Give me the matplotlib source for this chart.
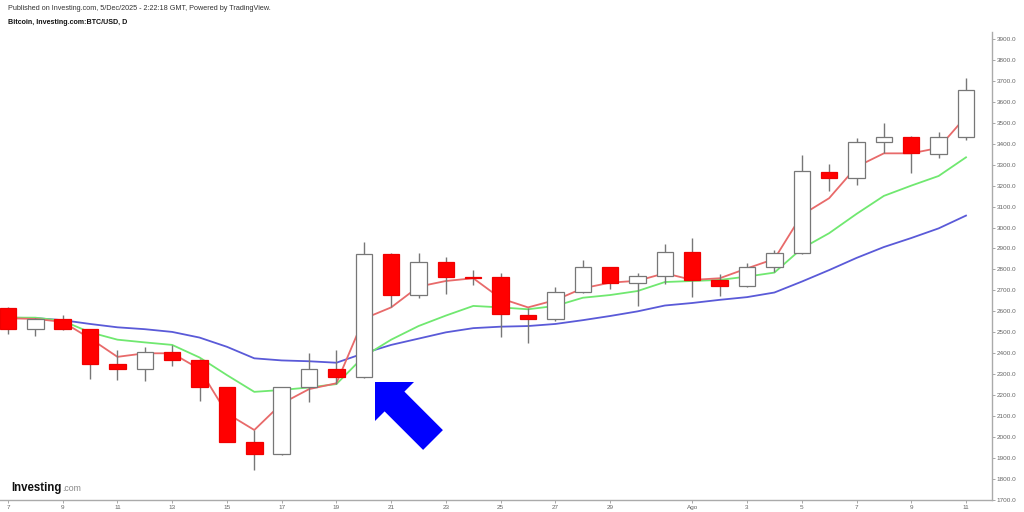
import matplotlib
matplotlib.use('Agg')
import matplotlib.pyplot as plt
from matplotlib.patches import Polygon, Rectangle
import numpy as np

# Daily BTC/USD candles, Jul 7 - Aug 11
dates = ['Jul 7','Jul 8','Jul 9','Jul 10','Jul 11','Jul 12','Jul 13','Jul 14','Jul 15','Jul 16',
         'Jul 17','Jul 18','Jul 19','Jul 20','Jul 21','Jul 22','Jul 23','Jul 24','Jul 25','Jul 26',
         'Jul 27','Jul 28','Jul 29','Jul 30','Jul 31','Aug 1','Aug 2','Aug 3','Aug 4','Aug 5',
         'Aug 6','Aug 7','Aug 8','Aug 9','Aug 10','Aug 11']
opens  = [2618, 2516, 2564, 2514, 2349, 2326, 2404, 2366, 2237, 1975,
          1918, 2237, 2323, 2285, 2872, 2678, 2837, 2762, 2762, 2583,
          2562, 2694, 2810, 2737, 2769, 2885, 2750, 2723, 2813, 2880,
          3267, 3235, 3407, 3431, 3351, 3431]
highs  = [2622, 2570, 2583, 2518, 2416, 2431, 2439, 2372, 2240, 2034,
          2240, 2400, 2416, 2932, 2878, 2880, 2861, 2797, 2782, 2614,
          2715, 2845, 2812, 2782, 2921, 2949, 2778, 2829, 2893, 3346,
          3302, 3429, 3498, 3436, 3458, 3712]
lows   = [2492, 2484, 2510, 2276, 2272, 2269, 2339, 2172, 1975, 1843,
          1915, 2169, 2252, 2280, 2619, 2662, 2683, 2726, 2479, 2447,
          2555, 2690, 2705, 2626, 2730, 2667, 2675, 2718, 2789, 2875,
          3174, 3203, 3357, 3259, 3330, 3418]
closes = [2516, 2564, 2516, 2349, 2326, 2404, 2366, 2237, 1978, 1918,
          2237, 2323, 2285, 2872, 2678, 2837, 2762, 2759, 2586, 2562,
          2694, 2810, 2737, 2769, 2885, 2750, 2723, 2813, 2880, 3270,
          3235, 3407, 3431, 3354, 3431, 3657]

# Moving averages (fast / medium / slow)
ma_fast = [2567, 2564, 2550, 2471, 2383, 2400, 2400, 2325, 2113, 2034,
           2160, 2229, 2257, 2565, 2619, 2718, 2745, 2758, 2662, 2619,
           2654, 2710, 2737, 2746, 2782, 2750, 2758, 2805, 2850, 3060,
           3140, 3290, 3354, 3354, 3380, 3530]
ma_mid  = [2570, 2570, 2555, 2500, 2465, 2452, 2440, 2380, 2296, 2216,
           2225, 2237, 2253, 2385, 2465, 2530, 2580, 2626, 2619, 2610,
           2626, 2665, 2678, 2697, 2740, 2745, 2750, 2766, 2785, 2900,
           2973, 3065, 3151, 3200, 3246, 3335]
ma_slow = [2570, 2568, 2558, 2540, 2524, 2515, 2502, 2475, 2431, 2376,
           2366, 2362, 2355, 2400, 2440, 2470, 2500, 2520, 2527, 2530,
           2540, 2558, 2578, 2600, 2628, 2640, 2655, 2668, 2690, 2742,
           2797, 2855, 2907, 2950, 2996, 3057]

tick_labels = ['7', '9', '11', '13', '15', '17', '19', '21', '23', '25', '27', '29',
               'Ago', '3', '5', '7', '9', '11']
tick_dates = ['Jul 7', 'Jul 9', 'Jul 11', 'Jul 13', 'Jul 15', 'Jul 17', 'Jul 19', 'Jul 21',
              'Jul 23', 'Jul 25', 'Jul 27', 'Jul 29', 'Aug 1', 'Aug 3', 'Aug 5', 'Aug 7',
              'Aug 9', 'Aug 11']
y_ticks = list(range(1700, 4000, 100))

plt.rcParams['font.family'] = ['Liberation Sans', 'DejaVu Sans']

W, H = 1024, 512
fig = plt.figure(figsize=(W / 100, H / 100), dpi=100)
fig.patch.set_facecolor('white')
ax = fig.add_axes([0, 12 / H, 992 / W, 468 / H])

x = np.arange(len(dates))
ax.plot(x, ma_slow, color='#5a5ad8', lw=1.3, zorder=1)
ax.plot(x, ma_mid, color='#70e870', lw=1.3, zorder=1)
ax.plot(x, ma_fast, color='#e86a6a', lw=1.3, zorder=1)

bw = 0.6
for i, (o, h, l, c) in enumerate(zip(opens, highs, lows, closes)):
    up = c >= o
    ax.vlines(i, l, h, color='#777777', lw=1.0, zorder=2)
    lo = min(o, c)
    ht = max(abs(c - o), 4)
    ax.add_patch(Rectangle((i - bw / 2, lo), bw, ht,
                           facecolor='white' if up else '#ff0000',
                           edgecolor='#777777' if up else '#f00000',
                           lw=0.9, zorder=3))

ax.set_xlim(-0.29, 35.95)
ax.set_ylim(1700, 3933)

ax.set_xticks([dates.index(d) for d in tick_dates])
ax.set_xticklabels(tick_labels)
ax.yaxis.tick_right()
ax.set_yticks(y_ticks)
ax.set_yticklabels([f'{v:.1f}' for v in y_ticks])
ax.tick_params(axis='both', labelsize=4.6, colors='#999999', labelcolor='#666666',
               length=2, width=0.6, pad=1.5)
for s in ['top', 'left']:
    ax.spines[s].set_visible(False)
for s in ['bottom', 'right']:
    ax.spines[s].set_color('#aaaaaa')
    ax.spines[s].set_linewidth(1.0)

# blue arrow (pixel coordinates of the figure, y measured from top)
pts = [(375, 382), (414, 382), (404.4, 391.6), (442.9, 430.1), (423.1, 449.9),
       (384.6, 411.4), (375, 421)]
pts_in = [(px / 100, (H - py) / 100) for px, py in pts]
fig.patches.append(Polygon(pts_in, closed=True, facecolor='#0000ff', edgecolor='none',
                           transform=fig.dpi_scale_trans, zorder=10))

fig.text(8 / W, 1 - 8 / H, 'Published on Investing.com, 5/Dec/2025 - 2:22:18 GMT, Powered by TradingView.',
         fontsize=5.2, color='#333333', va='center', ha='left')
fig.text(8 / W, 1 - 22 / H, 'Bitcoin, Investing.com:BTC/USD, D',
         fontsize=5.15, color='#111111', va='center', ha='left', fontweight='bold')

t = fig.text(11.5 / W, 1 - 491 / H, 'Investing', fontsize=8.3, fontweight='bold',
             color='#111111', va='baseline', ha='left')
fig.canvas.draw()
bb = t.get_window_extent()
fig.text((bb.x1 + 0.5) / W, 1 - 491 / H, '.com', fontsize=6.3, color='#888888',
         va='baseline', ha='left')

fig.savefig('out.png', dpi=100, facecolor='white')
